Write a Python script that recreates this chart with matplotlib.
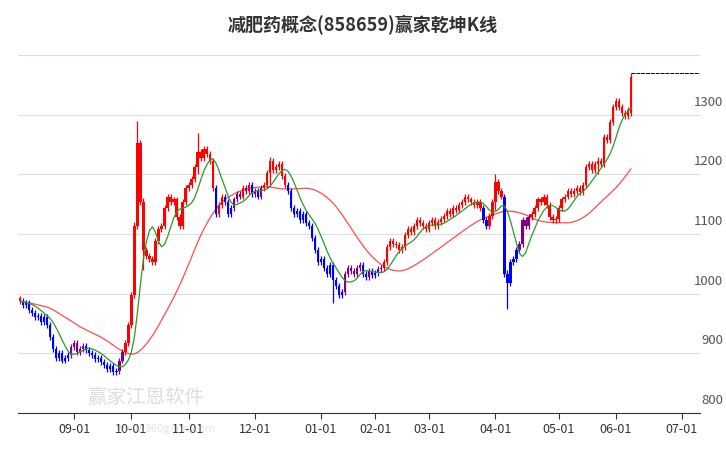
import numpy as np
import pandas as pd
import matplotlib.pyplot as plt

plt.rcParams['font.family'] = ['Noto Sans CJK SC', 'DejaVu Sans']

# ── Data (daily closes) ───────────────────────────────────────────────────────
CLOSES = [
    988, 981, 985, 973, 968, 961, 963, 953, 961, 948,
    928, 908, 893, 901, 888, 893, 898,
    911, 918, 903, 908, 913, 905,
    901, 898, 891, 893, 885,
    881, 873, 878, 868, 871,
    888, 903,
    918, 948, 998,
    1113, 1253,
    1153, 1073,
    1063, 1058, 1053,
    1088, 1108, 1113,
    1143, 1163, 1153, 1158,
    1128, 1113, 1153,
    1178, 1183, 1193,
    1213, 1238, 1228, 1243,
    1235, 1223,
    1178, 1133,
    1148, 1163, 1153, 1133,
    1143, 1158, 1168, 1163, 1178, 1173, 1183,
    1168, 1173, 1163, 1178, 1183,
    1203, 1223, 1208, 1213, 1218,
    1198, 1183, 1173,
    1143, 1133,
    1138, 1123, 1133, 1118, 1113,
    1093, 1073, 1053,
    1058, 1043, 1033, 1048, 1023, 1013, 998,
    1003, 1033, 1043,
    1038, 1033, 1043, 1048, 1033, 1028, 1038, 1031, 1035, 1041,
    1043, 1053,
    1078, 1088, 1083,
    1081, 1073, 1078,
    1098, 1108, 1103,
    1113, 1123, 1118,
    1113, 1108, 1118, 1123, 1113, 1121, 1125,
    1131, 1138, 1133, 1143, 1141, 1148, 1153,
    1163, 1158, 1153,
    1148, 1153, 1143,
    1123, 1113, 1131,
    1153, 1188, 1173, 1163,
    1033, 1018, 1053,
    1058, 1073, 1083,
    1123, 1113, 1128, 1133,
    1143, 1158, 1153, 1163, 1148,
    1128, 1123, 1125,
    1143, 1158, 1163, 1173, 1168,
    1173, 1178, 1171, 1183,
    1213, 1218, 1208, 1218,
    1223, 1218, 1263, 1258,
    1288, 1313, 1323,
    1313, 1303, 1298, 1308,
    1363,
]
FIRST_OPEN = 992
# a few long shadows seen on the chart: index -> (high, low)
LONG_WICKS = {38: (1120, 1000), 39: (1290, 1120), 41: (1160, 1040), 59: (1270, 1200),
              83: (1230, 1180), 104: (1010, 985), 158: (1200, 1140), 162: (1040, 975),
              192: (1230, 1200), 203: (1370, 1300)}

TICK_POS = [18, 37, 56, 78, 100, 118, 136, 158, 179, 198, 220]
TICK_LABELS = ['09-01', '10-01', '11-01', '12-01', '01-01', '02-01',
               '03-01', '04-01', '05-01', '06-01', '07-01']
Y_TICKS = [800, 900, 1000, 1100, 1200, 1300]

# ── Derived series ────────────────────────────────────────────────────────────
close = np.array(CLOSES, dtype=float)
opens = np.concatenate([[FIRST_OPEN], close[:-1]])
opens[-1] = 1303
n = len(close)
highs = np.maximum(opens, close) + 5
lows = np.minimum(opens, close) - 5
for i, (h, l) in LONG_WICKS.items():
    highs[i], lows[i] = max(highs[i], h), min(lows[i], l)

s = pd.Series(close)
ma_short = s.rolling(6, min_periods=1).mean().rolling(3, min_periods=1).mean()
ma_long = s.rolling(22, min_periods=1).mean().rolling(10, min_periods=1).mean()

# ── Plot ──────────────────────────────────────────────────────────────────────
fig = plt.figure(figsize=(7.26, 4.5), dpi=100)
ax = fig.add_axes([18 / 726, 37 / 450, 682 / 726, 365 / 450])
x = np.arange(n)

for i in range(n):
    c, o = close[i], opens[i]
    if c >= ma_long[i]:
        col = '#ff0000'
    elif c < ma_short[i]:
        col = '#0000ff'
    else:
        col = '#800080'
    ax.vlines(i, lows[i], highs[i], color=col, lw=0.9, zorder=3)
    ax.bar(i, max(abs(c - o), 1.5), bottom=min(c, o), width=0.75,
           color=col, zorder=3)

ax.plot(x, ma_short, color='#2a9a2a', lw=0.9, zorder=4)
ax.plot(x, ma_long, color='#ff4c4c', lw=0.9, zorder=2)
ax.hlines(highs[-1], n - 1, 226, colors='black', linestyles=(0, (4, 1)), lw=0.7)

ax.set_xlim(-0.7, 226)
ax.set_ylim(800, 1412)
for v in Y_TICKS + [1400]:
    ax.axhline(v, color='#dddddd', lw=0.8, zorder=0)
for sp in ['top', 'right', 'left']:
    ax.spines[sp].set_visible(False)
ax.spines['bottom'].set_color('#333333')
ax.set_yticks([])
ax.set_xticks(TICK_POS)
ax.set_xticklabels(TICK_LABELS, fontsize=9, color='#333333')
ax.tick_params(axis='x', length=4, color='#333333')
for v in Y_TICKS:
    ax.text(1.0 + 23 / 682, v + 10, str(v), transform=ax.get_yaxis_transform(),
            fontsize=9.5, color='#555555', ha='right', va='bottom')

fig.text(0.5, 0.945, '减肥药概念(858659)赢家乾坤K线', ha='center', va='center',
         fontsize=13, fontweight='bold', color='#333333')
fig.text(0.12, 0.105, '赢家江恩软件', fontsize=14, color='#bbbbbb', alpha=0.5)
fig.text(0.16, 0.04, 'www.360gann.com', fontsize=8, color='#bbbbbb', alpha=0.4)

fig.savefig('out.png', dpi=100)
